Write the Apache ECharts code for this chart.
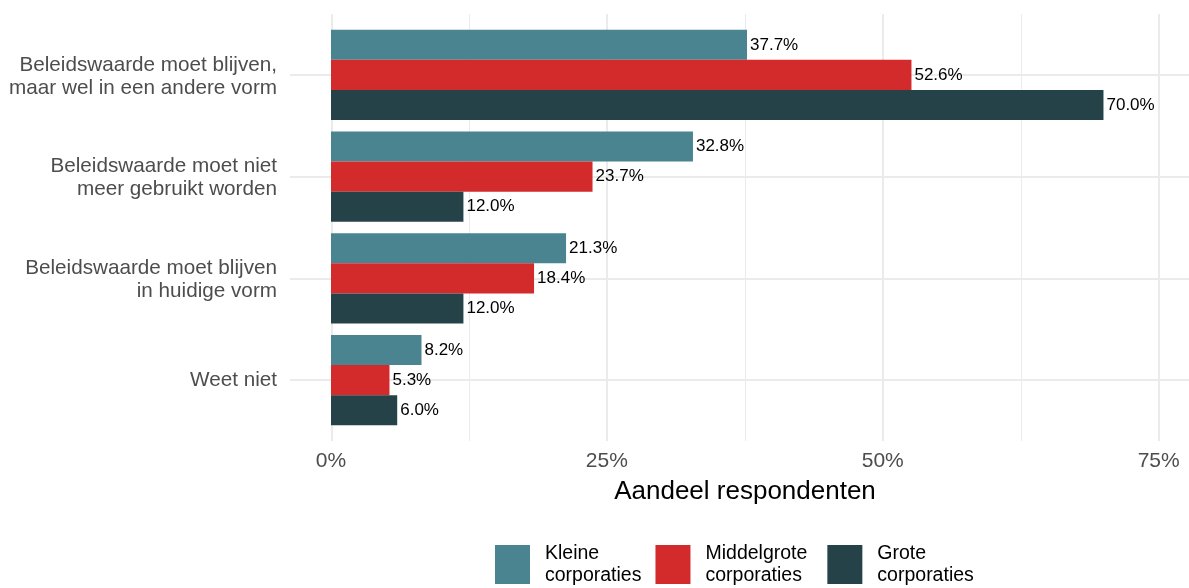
<!DOCTYPE html>
<html>
<head>
<meta charset="utf-8">
<script src="https://cdn.jsdelivr.net/npm/echarts@6/dist/echarts.min.js"></script>
<style>
  html, body { margin: 0; padding: 0; background: #fff; }
  #chart { width: 1189px; height: 588px; }
</style>
</head>
<body>
<div id="chart"></div>
<script>
  // data
  const categories = [
    'Beleidswaarde moet blijven,\nmaar wel in een andere vorm',
    'Beleidswaarde moet niet\nmeer gebruikt worden',
    'Beleidswaarde moet blijven\nin huidige vorm',
    'Weet niet'
  ]
  const kleine = [37.7, 32.8, 21.3, 8.2]
  const middelgrote = [52.6, 23.7, 18.4, 5.3]
  const grote = [70.0, 12.0, 12.0, 6.0]
  const seriesNames = ['Kleine corporaties', 'Middelgrote corporaties', 'Grote corporaties']
  const majorTicks = [0, 25, 50, 75]
  const minorTicks = [12.5, 37.5, 62.5]

  const colors = ['#4a8491', '#d32b2b', '#254249']
  const font = '"Liberation Sans", Arial, sans-serif'
  const gridGrey = '#ebebeb'

  let chart = echarts.init(document.getElementById('chart'))

  // gridlines of the whole panel (panel is wider than the bar area, like ggplot's expand)
  let gridLines = []
  majorTicks.forEach((v) => {
    gridLines.push({ xAxis: v, lineStyle: { color: gridGrey, width: 2, type: 'solid' } })
  })
  minorTicks.forEach((v) => {
    gridLines.push({ xAxis: v, lineStyle: { color: gridGrey, width: 1, type: 'solid' } })
  })
  categories.forEach((c, idx) => {
    gridLines.push({ yAxis: idx + 1, lineStyle: { color: gridGrey, width: 2, type: 'solid' } })
  })

  let bars = [kleine, middelgrote, grote].map((arr, i) => {
    return {
      name: seriesNames[i],
      type: 'bar',
      xAxisIndex: 1,
      yAxisIndex: 1,
      z: 5,
      barGap: '0%',
      barCategoryGap: '11.5%',
      itemStyle: { color: colors[i] },
      label: {
        show: true,
        position: 'right',
        distance: 3,
        color: '#000',
        fontSize: 17,
        fontFamily: font,
        formatter: (p) => p.value.toFixed(1) + '%'
      },
      data: arr
    }
  })

  // legend items, the middle one a bit wider like in the original
  let legendData = seriesNames.map((name, i) => {
    return {
      name: name,
      textStyle: { padding: [11, i === 1 ? 6 : 0, 0, 10] }
    }
  })

  let option = {
    animation: false,
    textStyle: { fontFamily: font },
    grid: [
      { left: 290, right: 0, top: 14, height: 427 },
      { left: 331, right: 0, top: 24, height: 407 }
    ],
    xAxis: [
      { gridIndex: 0, type: 'value', min: -3.75, max: 77.75, show: false },
      {
        gridIndex: 1,
        type: 'value',
        min: 0,
        max: 77.75,
        interval: 25,
        splitLine: { show: false },
        axisLine: { show: false },
        axisTick: { show: false },
        axisLabel: {
          formatter: '{value}%',
          color: '#4d4d4d',
          fontSize: 21,
          margin: 20,
          showMaxLabel: false
        }
      }
    ],
    yAxis: [
      { gridIndex: 0, type: 'value', min: 0.4, max: 4.6, inverse: true, show: false },
      {
        gridIndex: 1,
        type: 'category',
        data: categories,
        inverse: true,
        axisLine: { show: false },
        axisTick: { show: false },
        splitLine: { show: false },
        axisLabel: {
          color: '#4d4d4d',
          fontSize: 20.7,
          lineHeight: 23,
          margin: 54,
          formatter: (v) => v.indexOf('\n') > -1 ? '{m|' + v.split('\n').join('}\n{m|') + '}' : v,
          rich: {
            m: { fontSize: 20.7, lineHeight: 23, color: '#4d4d4d', padding: [3, 0, 0, 0] }
          }
        }
      }
    ],
    legend: {
      data: legendData,
      left: 495,
      top: 537,
      padding: 0,
      icon: 'rect',
      itemWidth: 35,
      itemHeight: 39,
      itemGap: 14,
      formatter: (name) => name.replace(' ', '\n'),
      textStyle: {
        color: '#000',
        fontSize: 19.5,
        lineHeight: 22,
        padding: [11, 0, 0, 10]
      }
    },
    graphic: [{
      type: 'text',
      x: 745,
      y: 492,
      style: {
        text: 'Aandeel respondenten',
        font: '26px ' + font,
        fill: '#000',
        align: 'center',
        verticalAlign: 'middle'
      }
    }],
    series: [
      {
        type: 'line',
        xAxisIndex: 0,
        yAxisIndex: 0,
        z: 0,
        data: [],
        silent: true,
        markLine: {
          silent: true,
          symbol: 'none',
          z: 0,
          label: { show: false },
          data: gridLines
        }
      }
    ].concat(bars)
  }
  chart.setOption(option)
</script>
</body>
</html>
